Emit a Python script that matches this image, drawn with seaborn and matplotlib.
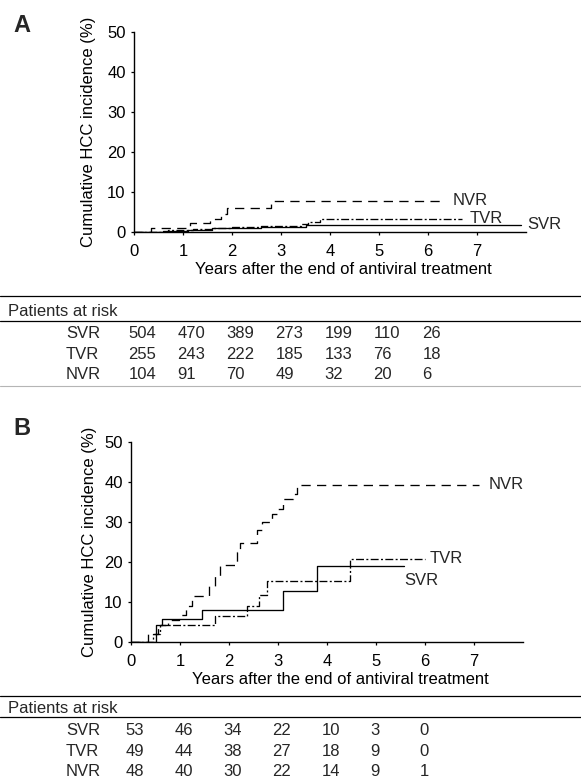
import matplotlib
matplotlib.use("Agg")
import matplotlib.pyplot as plt
import matplotlib.transforms as mtransforms
from matplotlib.lines import Line2D
import pandas as pd
import seaborn as sns

groups = ["SVR", "TVR", "NVR"]
year_ticks = [0, 1, 2, 3, 4, 5, 6, 7]
pct_ticks = [0, 10, 20, 30, 40, 50]

# panel A: cumulative HCC incidence (%), step times in years
a_svr_t = [0, 0.6, 1.1, 1.6, 2.6, 3.5, 7.9]
a_svr_v = [0, 0.3, 0.6, 0.9, 1.3, 1.8, 1.8]
a_tvr_t = [0, 0.7, 1.2, 1.6, 2.0, 2.6, 3.4, 3.55, 3.8, 6.7]
a_tvr_v = [0, 0.4, 0.7, 1.0, 1.2, 1.5, 2.0, 2.6, 3.2, 3.2]
a_nvr_t = [0, 0.34, 1.15, 1.56, 1.78, 1.9, 2.8, 6.35]
a_nvr_v = [0, 1.0, 2.25, 3.3, 4.5, 6.0, 7.75, 7.75]

# panel B
b_svr_t = [0, 0.52, 0.63, 1.45, 3.1, 3.8, 5.57]
b_svr_v = [0, 4.2, 5.8, 8.0, 12.7, 18.9, 18.9]
b_tvr_t = [0, 0.45, 0.59, 1.71, 2.36, 2.62, 2.77, 4.47, 6.0]
b_tvr_v = [0, 2.0, 4.2, 6.5, 8.9, 11.7, 15.2, 20.8, 20.8]
b_nvr_t = [0, 0.35, 0.55, 0.75, 0.97, 1.12, 1.24, 1.6, 1.72, 1.82, 2.16, 2.22,
           2.57, 2.67, 2.87, 3.0, 3.1, 3.3, 3.38, 7.1]
b_nvr_v = [0, 1.9, 4.3, 5.5, 6.8, 9.1, 11.6, 14.0, 16.5, 19.2, 22.5, 24.7,
           27.9, 29.9, 32.0, 33.2, 35.7, 37.0, 39.3, 39.3]

# patients at risk
a_risk_svr = [504, 470, 389, 273, 199, 110, 26]
a_risk_tvr = [255, 243, 222, 185, 133, 76, 18]
a_risk_nvr = [104, 91, 70, 49, 32, 20, 6]
b_risk_svr = [53, 46, 34, 22, 10, 3, 0]
b_risk_tvr = [49, 44, 38, 27, 18, 9, 0]
b_risk_nvr = [48, 40, 30, 22, 14, 9, 1]


def long_df(series):
    rows = []
    for g, (t, v) in zip(groups, series):
        for ti, vi in zip(t, v):
            rows.append({"years": ti, "pct": vi, "group": g})
    return pd.DataFrame(rows)


df_a = long_df([(a_svr_t, a_svr_v), (a_tvr_t, a_tvr_v), (a_nvr_t, a_nvr_v)])
df_b = long_df([(b_svr_t, b_svr_v), (b_tvr_t, b_tvr_v), (b_nvr_t, b_nvr_v)])

sns.set_theme(style="ticks")
plt.rcParams["font.family"] = ["Liberation Sans", "DejaVu Sans"]

W, H = 581, 778
fig = plt.figure(figsize=(W / 100, H / 100), dpi=100)
fig.patch.set_facecolor("white")

dash_map = {"SVR": "", "TVR": (6, 1.8, 1.5, 1.8), "NVR": (7, 4.8)}


def fy(px):
    return 1 - px / H


def draw_panel(df, left_px, top_px, letter, letter_y, ylab_x, labels):
    ax = fig.add_axes([left_px / W, fy(top_px + 200), 392 / W, 200 / H])
    sns.lineplot(data=df, x="years", y="pct", style="group", dashes=dash_map,
                 color="black", drawstyle="steps-post", errorbar=None,
                 legend=False, lw=0.95, ax=ax)
    ax.set_xlim(0, 8)
    ax.set_ylim(0, 50)
    ax.set_xticks(year_ticks)
    ax.set_yticks(pct_ticks)
    sns.despine(ax=ax)
    for s in ["left", "bottom"]:
        ax.spines[s].set_color("black")
        ax.spines[s].set_linewidth(1.0)
    ax.tick_params(axis="both", colors="black", labelsize=12, length=2.5, width=0.9)
    ax.tick_params(axis="y", pad=3.5)
    ax.tick_params(axis="x", pad=6.5)
    ax.set_facecolor("white")
    ax.set_xlabel("Years after the end of antiviral treatment", fontsize=12, color="black")
    ax.set_ylabel("Cumulative HCC incidence (%)", fontsize=12, color="black")
    ax.xaxis.set_label_coords(0.534, -0.148)
    ax.yaxis.set_label_coords(ylab_x, 0.5)
    for name, x, y in labels:
        ax.text(x, y, name, fontsize=12, ha="left", va="center", clip_on=False)
    fig.text(22 / W, fy(letter_y), letter, fontsize=17, fontweight="bold",
             ha="center", va="center")
    return ax


ax_a = draw_panel(df_a, 134, 32, "A", 25, -0.097,
                  [("NVR", 6.5, 7.9), ("TVR", 6.85, 3.4), ("SVR", 8.02, 1.8)])
ax_b = draw_panel(df_b, 131, 442, "B", 429, -0.087,
                  [("NVR", 7.3, 39.3), ("TVR", 6.1, 20.8), ("SVR", 5.57, 15.4)])


def hline(px, color="black", lw=0.9):
    fig.add_artist(Line2D([0, 1], [fy(px), fy(px)], transform=fig.transFigure,
                          color=color, lw=lw))


def risk_table(ax, top, head_y, line2, row_ys, rows):
    hline(top)
    fig.text(8 / W, fy(head_y + 1.5), "Patients at risk", fontsize=12,
             ha="left", va="center")
    hline(line2)
    trans = mtransforms.blended_transform_factory(ax.transData, fig.transFigure)
    for g, vals, ry in zip(groups, rows, row_ys):
        y = fy(ry + 1.5)
        fig.text(66 / W, y, g, fontsize=12, ha="left", va="center")
        for k, v in enumerate(vals):
            ax.text(k - 0.11, y, str(v), fontsize=12, ha="left",
                    va="center", transform=trans, clip_on=False)


risk_table(ax_a, 296, 310, 321, [332, 353, 373], [a_risk_svr, a_risk_tvr, a_risk_nvr])
hline(386, color="#b5b5b5", lw=0.8)
risk_table(ax_b, 696, 707, 717, [729, 750, 770], [b_risk_svr, b_risk_tvr, b_risk_nvr])

fig.savefig("out.png", dpi=100, facecolor="white")
